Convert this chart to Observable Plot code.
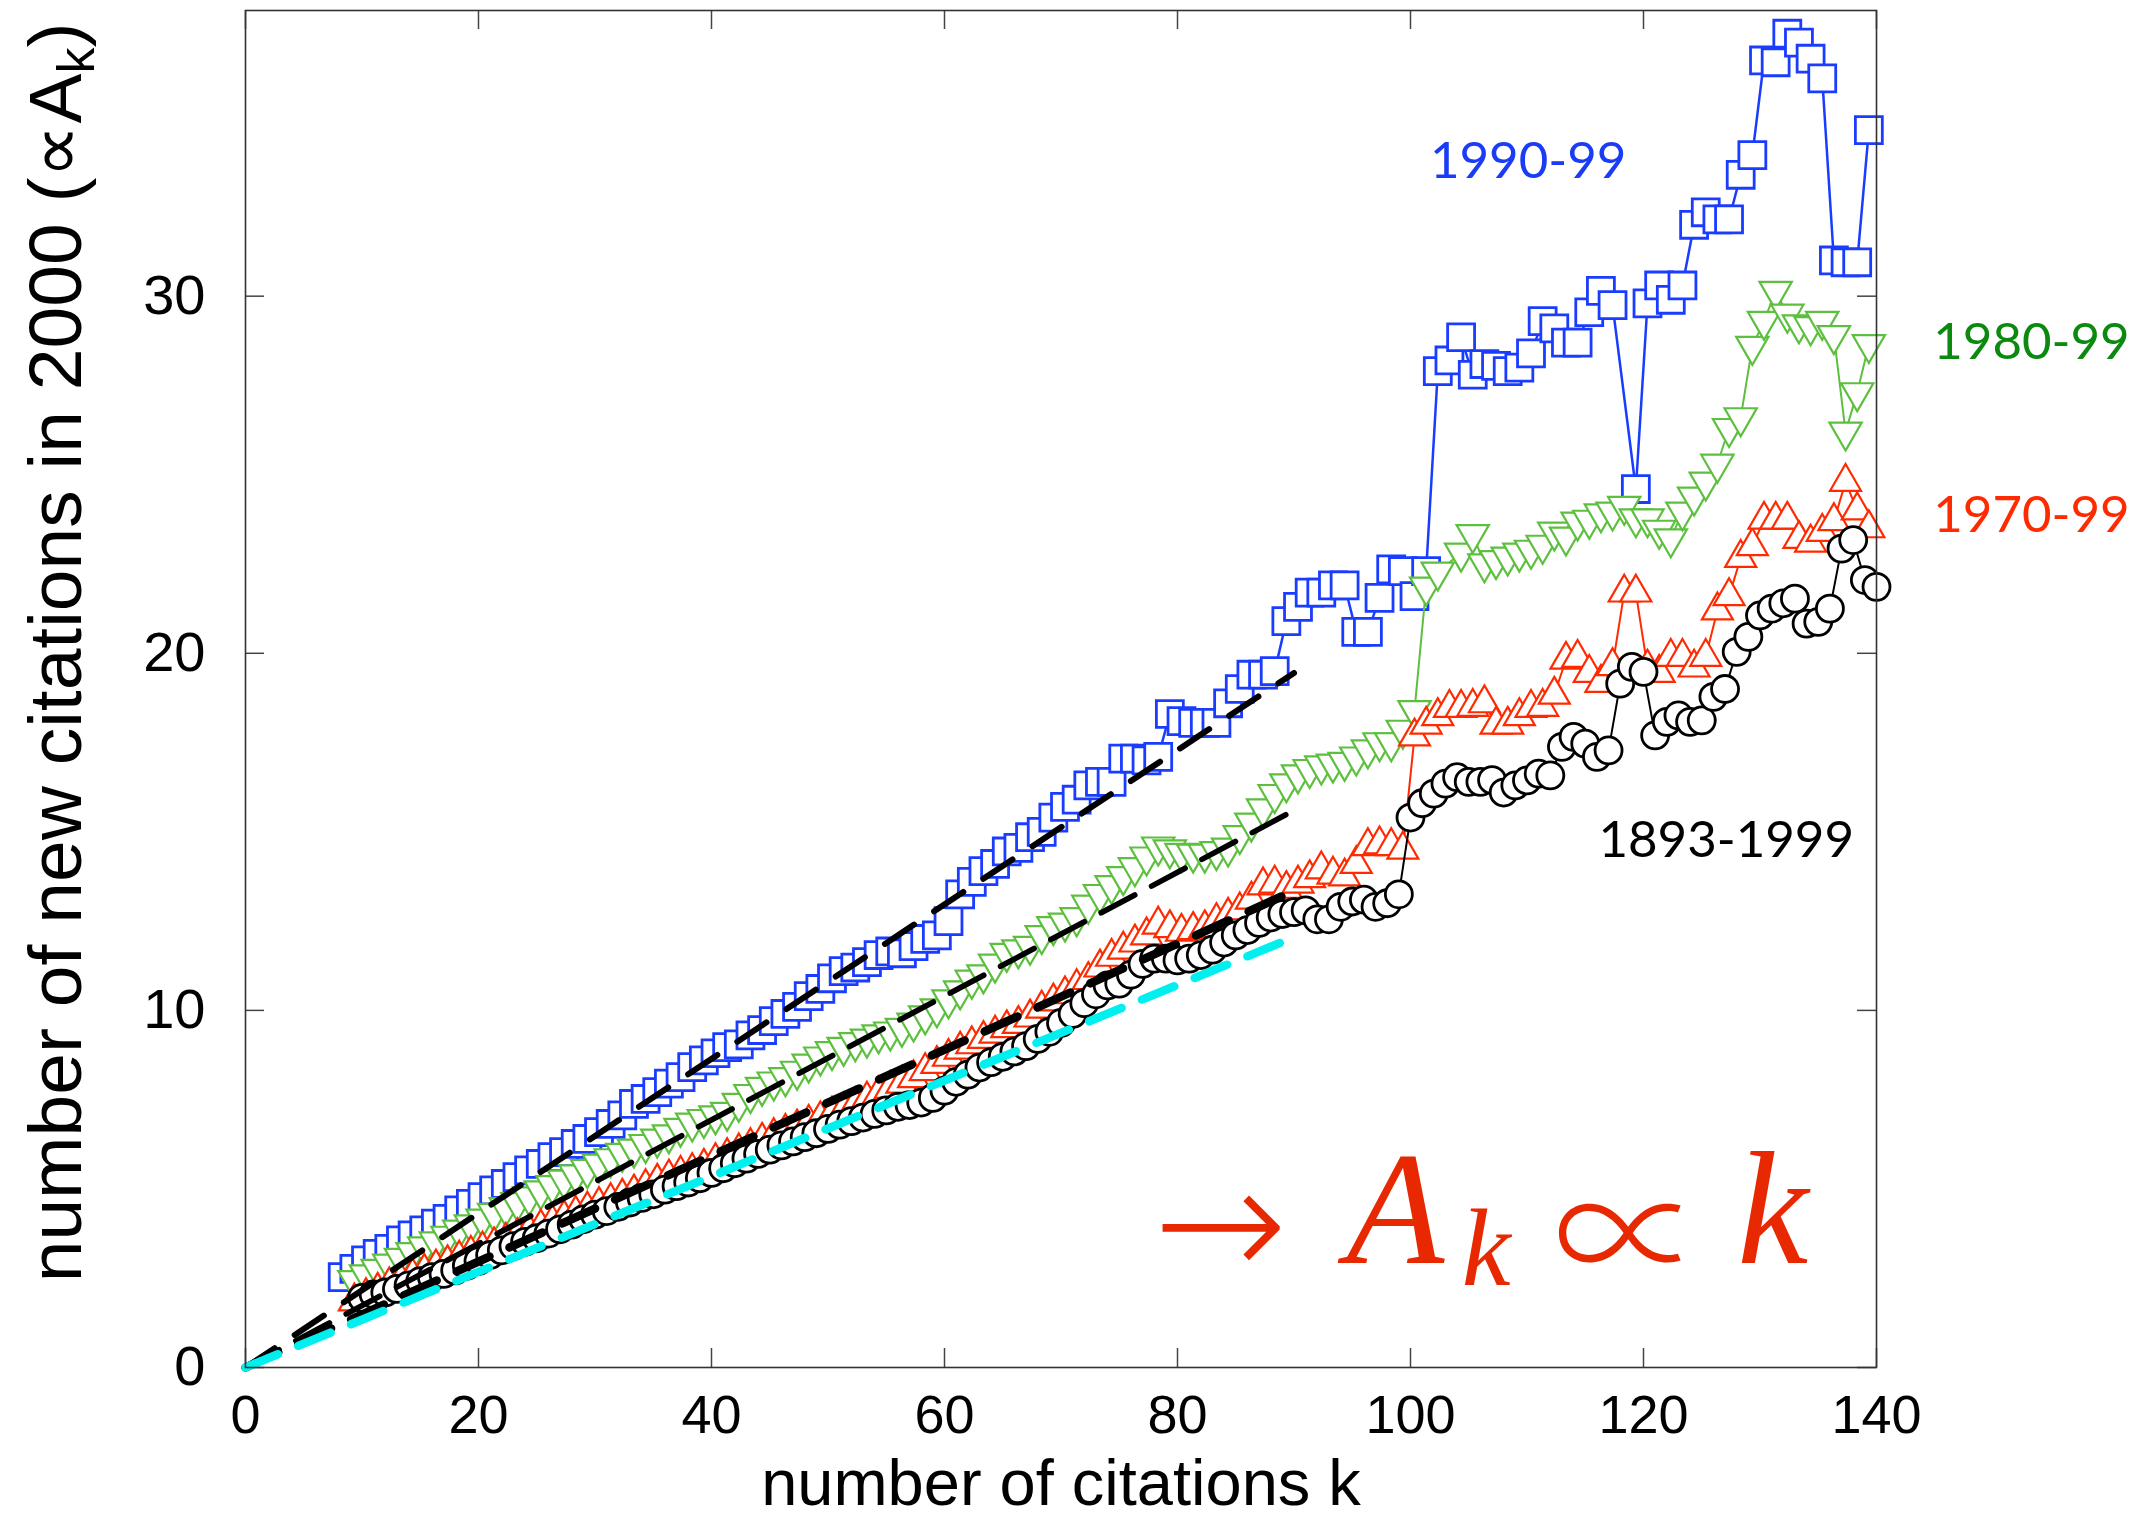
<!DOCTYPE html>
<html>
<head>
<meta charset="utf-8">
<script src="https://cdn.jsdelivr.net/npm/d3@7"></script>
<script src="https://cdn.jsdelivr.net/npm/@observablehq/plot@0.6"></script>
<style>
  html, body { margin: 0; padding: 0; background: #fff; }
  #chart svg { display: block; }
</style>
</head>
<body>
<div id="chart"></div>
<script>
// ---------- data: [k, value] ----------
const series1990 = [[8,2.53],[9,2.76],[10,3.0],[11,3.18],[12,3.32],[13,3.56],[14,3.7],[15,3.84],[16,4.03],[17,4.16],[18,4.4],[19,4.58],[20,4.77],[21,4.96],[22,5.14],[23,5.33],[24,5.52],[25,5.7],[26,5.89],[27,6.03],[28,6.26],[29,6.4],[30,6.59],[31,6.82],[32,7.06],[33,7.38],[34,7.52],[35,7.71],[36,7.95],[37,8.13],[38,8.41],[39,8.6],[40,8.8],[41,8.97],[42,9.05],[43,9.3],[44,9.45],[45,9.7],[46,9.9],[47,10.1],[48,10.4],[49,10.6],[50,10.9],[51,11.1],[52,11.2],[53,11.35],[54,11.55],[55,11.65],[56,11.6],[57,11.8],[58,12.0],[59,12.1],[60,12.5],[61,13.25],[62,13.6],[63,13.9],[64,14.1],[65,14.45],[66,14.55],[67,14.85],[68,15.0],[69,15.4],[70,15.7],[71,15.9],[72,16.3],[73,16.4],[74,16.4],[75,17.05],[76,17.05],[77,17.0],[78,17.1],[79,18.3],[80,18.1],[81,18.05],[82,18.05],[83,18.05],[84,18.6],[85,19.0],[86,19.4],[87,19.4],[88,19.5],[89,20.9],[90,21.3],[91,21.7],[92,21.7],[93,21.9],[94,21.9],[95,20.6],[96,20.6],[97,21.55],[98,22.35],[99,22.3],[100,21.6],[101,22.3],[102,27.9],[103,28.2],[104,28.85],[105,27.8],[106,28.1],[107,28.05],[108,27.9],[109,28.0],[110,28.4],[111,29.3],[112,29.1],[113,28.7],[114,28.7],[115,29.55],[116,30.15],[117,29.75],[119,24.6],[120,29.8],[121,30.3],[122,29.9],[123,30.3],[124,32.0],[125,32.35],[126,32.15],[127,32.15],[128,33.4],[129,33.95],[130,36.6],[131,36.55],[132,37.35],[133,37.1],[134,36.65],[135,36.1],[136,31.0],[137,30.95],[138,30.95],[139,34.65]];

const series1980 = [[9,2.44],[10,2.6],[11,2.75],[12,2.9],[13,3.06],[14,3.22],[15,3.38],[16,3.52],[17,3.68],[18,3.85],[19,4.0],[20,4.16],[21,4.32],[22,4.48],[23,4.62],[24,4.78],[25,4.95],[26,5.1],[27,5.25],[28,5.4],[29,5.55],[30,5.7],[31,5.85],[32,6.0],[33,6.12],[34,6.25],[35,6.4],[36,6.52],[37,6.7],[38,6.85],[39,6.95],[40,7.05],[41,7.15],[42,7.4],[43,7.65],[44,7.85],[45,8.0],[46,8.12],[47,8.3],[48,8.5],[49,8.7],[50,8.85],[51,8.97],[52,9.1],[53,9.2],[54,9.32],[55,9.4],[56,9.5],[57,9.65],[58,9.85],[59,10.05],[60,10.3],[61,10.55],[62,10.85],[63,11.0],[64,11.3],[65,11.6],[66,11.7],[67,11.8],[68,12.1],[69,12.35],[70,12.45],[71,12.6],[72,12.95],[73,13.25],[74,13.5],[75,13.75],[76,14.0],[77,14.3],[78,14.58],[79,14.5],[80,14.4],[81,14.38],[82,14.38],[83,14.45],[84,14.55],[85,14.9],[86,15.25],[87,15.65],[88,16.05],[89,16.35],[90,16.6],[91,16.75],[92,16.85],[93,16.9],[94,16.95],[95,17.1],[96,17.3],[97,17.5],[98,17.5],[99,17.85],[100,18.4],[101,21.86],[102,22.28],[104,22.81],[105,23.33],[106,22.51],[107,22.6],[108,22.7],[109,22.81],[110,22.89],[111,23.03],[112,23.4],[113,23.26],[114,23.68],[115,23.73],[116,23.91],[117,23.96],[118,24.12],[119,23.77],[120,23.77],[121,23.45],[122,23.21],[123,23.96],[124,24.38],[125,24.8],[126,25.3],[127,26.3],[128,26.6],[129,28.6],[130,29.3],[131,30.14],[132,29.5],[133,29.2],[134,29.15],[135,29.3],[136,28.9],[137,26.2],[138,27.3],[139,28.65]];

const series1970 = [[9,1.85],[10,2.0],[11,2.15],[12,2.3],[13,2.42],[14,2.55],[15,2.68],[16,2.8],[17,2.92],[18,3.05],[19,3.18],[20,3.3],[21,3.42],[22,3.55],[23,3.68],[24,3.8],[25,3.92],[26,4.05],[27,4.18],[28,4.3],[29,4.42],[30,4.55],[31,4.66],[32,4.78],[33,4.9],[34,5.05],[35,5.2],[36,5.32],[37,5.42],[38,5.5],[39,5.62],[40,5.78],[41,5.92],[42,6.05],[43,6.2],[44,6.35],[45,6.48],[46,6.6],[47,6.72],[48,6.85],[49,6.95],[50,7.08],[51,7.2],[52,7.35],[53,7.5],[54,7.65],[55,7.8],[56,7.95],[57,8.1],[58,8.3],[59,8.5],[60,8.7],[61,8.9],[62,9.05],[63,9.2],[64,9.35],[65,9.5],[66,9.62],[67,9.8],[68,10.05],[69,10.25],[70,10.45],[71,10.65],[72,10.85],[73,11.2],[74,11.5],[75,11.7],[76,11.9],[77,12.1],[78,12.4],[79,12.3],[80,12.2],[81,12.25],[82,12.3],[83,12.5],[84,12.65],[85,12.8],[86,13.1],[87,13.5],[88,13.55],[89,13.4],[90,13.55],[91,13.7],[92,13.95],[93,13.8],[94,13.75],[95,14.1],[96,14.6],[97,14.65],[98,14.6],[99,14.5],[100,17.67],[101,18.0],[102,18.24],[103,18.47],[104,18.47],[105,18.5],[106,18.6],[107,18.0],[108,18.0],[109,18.24],[110,18.47],[111,18.5],[112,18.84],[113,19.82],[114,19.87],[115,19.45],[116,19.17],[117,19.64],[118,21.7],[119,21.7],[120,19.6],[121,19.45],[122,19.9],[123,19.9],[124,19.6],[125,19.9],[126,21.2],[127,21.6],[128,22.67],[129,23.0],[130,23.74],[131,23.74],[132,23.74],[133,23.2],[134,23.1],[135,23.4],[136,23.7],[137,24.8],[138,24.0],[139,23.5]];

const series1893 = [[10,1.95],[11,2.05],[12,2.1],[13,2.2],[14,2.3],[15,2.42],[16,2.53],[17,2.62],[18,2.72],[19,2.85],[20,2.98],[21,3.15],[22,3.28],[23,3.4],[24,3.52],[25,3.62],[26,3.75],[27,3.87],[28,4.0],[29,4.15],[30,4.28],[31,4.38],[32,4.5],[33,4.62],[34,4.75],[35,4.85],[36,4.98],[37,5.08],[38,5.18],[39,5.3],[40,5.45],[41,5.58],[42,5.72],[43,5.85],[44,5.98],[45,6.1],[46,6.22],[47,6.33],[48,6.45],[49,6.56],[50,6.68],[51,6.8],[52,6.9],[53,7.0],[54,7.1],[55,7.2],[56,7.3],[57,7.35],[58,7.42],[59,7.55],[60,7.75],[61,8.0],[62,8.2],[63,8.4],[64,8.55],[65,8.7],[66,8.85],[67,9.0],[68,9.2],[69,9.4],[70,9.65],[71,9.9],[72,10.2],[73,10.45],[74,10.7],[75,10.75],[76,11.0],[77,11.3],[78,11.45],[79,11.45],[80,11.4],[81,11.45],[82,11.55],[83,11.7],[84,11.9],[85,12.1],[86,12.25],[87,12.45],[88,12.6],[89,12.7],[90,12.75],[91,12.8],[92,12.55],[93,12.55],[94,12.9],[95,13.05],[96,13.1],[97,12.9],[98,13.0],[99,13.25],[100,15.4],[101,15.8],[102,16.07],[103,16.35],[104,16.53],[105,16.4],[106,16.4],[107,16.45],[108,16.1],[109,16.3],[110,16.44],[111,16.63],[112,16.58],[113,17.38],[114,17.66],[115,17.47],[116,17.1],[117,17.28],[118,19.15],[119,19.62],[120,19.48],[121,17.7],[122,18.08],[123,18.26],[124,18.08],[125,18.12],[126,18.78],[127,19.0],[128,20.04],[129,20.46],[130,21.06],[131,21.25],[132,21.4],[133,21.53],[134,20.83],[135,20.88],[136,21.25],[137,22.93],[138,23.17],[139,22.05],[140,21.86]];

// linear fits (dashed lines): endpoints [k, value]
const fit1990 = [[0,0],[90,19.45]];
const fit1980 = [[0,0],[90,15.6]];
const fit1970 = [[0,0],[90,13.35]];
const fit1893 = [[0,0],[90,12.05]];

// ticks
const xTicks = [0,20,40,60,80,100,120,140];
const yTicks = [0,10,20,30];

// texts
const xLabel = "number of citations k";
const yLabelMain = "number of new citations in 2000 (\u221DA";
const yLabelSub = "k";
const yLabelClose = ")";
const seriesLabels = [
  {text: "1990-99", k: 110.1, v: 33.3, color: "#1a3cf5"},
  {text: "1980-99", k: 153.3, v: 28.25, color: "#0c8a10"},
  {text: "1970-99", k: 153.3, v: 23.4, color: "#ff2a00"},
  {text: "1893-1999", k: 127.1, v: 14.3, color: "#000000"}
];
const mathArrow = [{text: "\u2192", k: 83.7, v: 2.5}];
const mathMain = [{text: "A", k: 98.7, v: 2.94}, {text: "k", k: 131.1, v: 2.94}];
const mathSub = [{text: "k", k: 106.5, v: 2.3}];
const mathProp = [{text: "\u221D", k: 118.7, v: 2.2}];

// ---------- styling ----------
const BLUE = "#1a3cff", GREEN = "#5cc03e", RED = "#ff2a00", MATHRED = "#e82800", CYAN = "#00f0f0";
const FW = 1631, FH = 1357, TICK = 19;

const X = d => d[0], Y = d => d[1];

const chart = Plot.plot({
  width: 2138,
  height: 1519,
  marginLeft: 245,
  marginRight: 262,
  marginTop: 10,
  marginBottom: 152,
  x: {domain: [0, 140]},
  y: {domain: [0, 38]},
  style: {fontFamily: "'Liberation Sans', Arial, Helvetica, sans-serif", background: "#fff", overflow: "visible"},
  marks: [
    // inward ticks on all four sides
    Plot.gridX({ticks: xTicks, stroke: "#444", strokeOpacity: 1, strokeWidth: 1.5, insetTop: FH - TICK}),
    Plot.gridX({ticks: xTicks, stroke: "#444", strokeOpacity: 1, strokeWidth: 1.5, insetBottom: FH - TICK}),
    Plot.gridY({ticks: yTicks, stroke: "#444", strokeOpacity: 1, strokeWidth: 1.5, insetRight: FW - TICK}),
    Plot.gridY({ticks: yTicks, stroke: "#444", strokeOpacity: 1, strokeWidth: 1.5, insetLeft: FW - TICK}),
    Plot.axisX(xTicks, {tickSize: 0, tickPadding: 27, fontSize: 54, label: null, fill: "#000"}),
    Plot.axisY(yTicks, {tickSize: 0, tickPadding: 40, fontSize: 56, label: null, fill: "#000"}),

    // 1990-99 squares
    Plot.line(series1990, {x: X, y: Y, stroke: BLUE, strokeWidth: 2.5, dx: 4}),
    Plot.dot(series1990, {x: X, y: Y, symbol: "square", r: 15.2, stroke: BLUE, strokeWidth: 2.8, fill: "#fff", dx: 4}),
    // 1980-99 down triangles
    Plot.line(series1980, {x: X, y: Y, stroke: GREEN, strokeWidth: 2, dx: 4}),
    Plot.dot(series1980, {x: X, y: Y, symbol: "triangle", rotate: 180, r: 12, stroke: GREEN, strokeWidth: 2.2, fill: "#fff", dx: 4}),
    // 1970-99 up triangles
    Plot.line(series1970, {x: X, y: Y, stroke: RED, strokeWidth: 2, dx: 4}),
    Plot.dot(series1970, {x: X, y: Y, symbol: "triangle", r: 11.5, stroke: RED, strokeWidth: 2.2, fill: "#fff", dx: 4}),
    // 1893-1999 circles
    Plot.line(series1893, {x: X, y: Y, stroke: "#000", strokeWidth: 2}),
    Plot.dot(series1893, {x: X, y: Y, symbol: "circle", r: 13.5, stroke: "#000", strokeWidth: 2.8, fill: "#fff"}),

    // fits
    Plot.line(fit1990, {x: X, y: Y, stroke: "#000", strokeWidth: 6, strokeDasharray: "35,24", strokeLinecap: "round"}),
    Plot.line(fit1980, {x: X, y: Y, stroke: "#000", strokeWidth: 5.6, strokeDasharray: "38,19", strokeLinecap: "round"}),
    Plot.line(fit1970, {x: X, y: Y, stroke: "#000", strokeWidth: 8.5, strokeDasharray: "36,22", strokeLinecap: "round"}),
    Plot.line(fit1893, {x: X, y: Y, stroke: CYAN, strokeWidth: 8.5, strokeDasharray: "35,22", strokeLinecap: "round"}),

    Plot.frame({stroke: "#333", strokeWidth: 1.6}),

    // axis titles
    Plot.text([xLabel], {text: d => d, frameAnchor: "bottom", dy: 137, fontSize: 65, lineAnchor: "bottom", fill: "#000"}),
    Plot.text([yLabelClose], {text: d => d, frameAnchor: "top-left", rotate: -90, textAnchor: "end", lineAnchor: "bottom", dx: -165, dy: 12, fontSize: 75, fill: "#000"}),
    Plot.text([yLabelSub], {text: d => d, frameAnchor: "top-left", rotate: -90, textAnchor: "end", lineAnchor: "bottom", dx: -152, dy: 37, fontSize: 52, fill: "#000"}),
    Plot.text([yLabelMain], {text: d => d, frameAnchor: "top-left", rotate: -90, textAnchor: "end", lineAnchor: "bottom", dx: -165, dy: 63, fontSize: 75, fill: "#000"}),

    // series labels
    Plot.text(seriesLabels, {x: "k", y: "v", text: "text", fill: d => d.color, fontSize: 51, fontFamily: "Lato, 'Open Sans', sans-serif", textAnchor: "middle", lineAnchor: "bottom"}),

    // math annotation
    Plot.text(mathArrow, {x: "k", y: "v", text: "text", fill: MATHRED, fontSize: 160, fontWeight: 200, fontFamily: "'DejaVu Sans', 'DejaVu Serif', sans-serif", textAnchor: "middle", lineAnchor: "bottom"}),
    Plot.text(mathMain, {x: "k", y: "v", text: "text", fill: MATHRED, fontSize: 160, fontStyle: "italic", fontFamily: "'Liberation Serif', 'DejaVu Serif', serif", textAnchor: "middle", lineAnchor: "bottom"}),
    Plot.text(mathSub, {x: "k", y: "v", text: "text", fill: MATHRED, fontSize: 110, fontStyle: "italic", fontFamily: "'Liberation Serif', 'DejaVu Serif', serif", textAnchor: "middle", lineAnchor: "bottom"}),
    Plot.text(mathProp, {x: "k", y: "v", text: "text", fill: MATHRED, fontSize: 150, fontWeight: 300, fontFamily: "'Noto Sans CJK JP', 'Noto Sans CJK SC', 'DejaVu Serif', serif", textAnchor: "middle", lineAnchor: "bottom"})
  ]
});
document.getElementById("chart").appendChild(chart);
</script>
</body>
</html>
